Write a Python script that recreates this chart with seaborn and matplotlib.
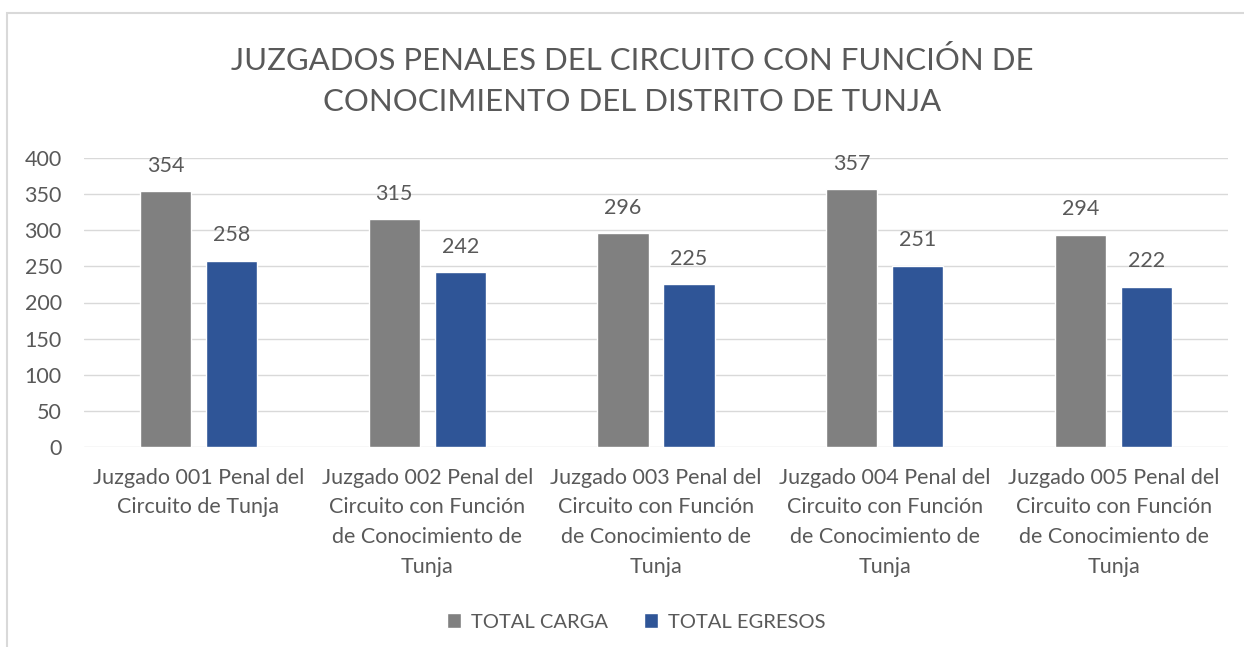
import matplotlib
matplotlib.use("Agg")
import matplotlib.pyplot as plt
from matplotlib.patches import Rectangle
import seaborn as sns
import pandas as pd

categories = [
    "Juzgado 001 Penal del\nCircuito de Tunja",
    "Juzgado 002 Penal del\nCircuito con Función\nde Conocimiento de\nTunja",
    "Juzgado 003 Penal del\nCircuito con Función\nde Conocimiento de\nTunja",
    "Juzgado 004 Penal del\nCircuito con Función\nde Conocimiento de\nTunja",
    "Juzgado 005 Penal del\nCircuito con Función\nde Conocimiento de\nTunja",
]
series_names = ["TOTAL CARGA", "TOTAL EGRESOS"]
total_carga = [354, 315, 296, 357, 294]
total_egresos = [258, 242, 225, 251, 222]
y_ticks = [0, 50, 100, 150, 200, 250, 300, 350, 400]
title = "JUZGADOS PENALES DEL CIRCUITO CON FUNCIÓN DE\nCONOCIMIENTO DEL DISTRITO DE TUNJA"

df = pd.DataFrame({
    "cat": categories * 2,
    "serie": [series_names[0]] * 5 + [series_names[1]] * 5,
    "val": total_carga + total_egresos,
})

sns.set_theme(style="white")
plt.rcParams["font.family"] = ["Lato", "DejaVu Sans"]
txt = "#595959"
grid = "#D9D9D9"
colors = ["#808080", "#2F5597"]

fig = plt.figure(figsize=(12.44, 6.47), dpi=100)
ax = fig.add_axes([84 / 1244, 1 - 447 / 647, (1228 - 84) / 1244, (447 - 158) / 647])

sns.barplot(data=df, x="cat", y="val", hue="serie", palette=colors,
            width=0.577, gap=0.227, ax=ax, legend=True, saturation=1)

ax.set_ylim(0, 400)
ax.set_xlim(-0.5, 4.5)
ax.set_yticks(y_ticks)
ax.yaxis.grid(True, color=grid, linewidth=1)
ax.set_axisbelow(True)
for s in ax.spines.values():
    s.set_visible(False)
ax.set_xlabel("")
ax.set_ylabel("")
ax.tick_params(axis="y", length=0, labelsize=15.5, labelcolor=txt, pad=16)
ax.tick_params(axis="x", length=0, labelsize=15.5, labelcolor=txt, pad=15)
for lab in ax.get_xticklabels():
    lab.set_linespacing(1.6)

for c in ax.containers:
    ax.bar_label(c, fmt="%d", padding=11, fontsize=15.5, color=txt)

leg = ax.legend(loc="center", bbox_to_anchor=(0.4827, (622 - 447) / -289),
                ncol=2, frameon=False, fontsize=14.5, handlelength=0.7,
                handleheight=0.7, columnspacing=1.8, handletextpad=0.5)
for t in leg.get_texts():
    t.set_color(txt)

fig.text(0.508, 1 - 81 / 647, title, ha="center", va="center", fontsize=22.4,
         color=txt, linespacing=1.55)

fig.patches.append(Rectangle((7 / 1244, -0.1), 1.2, 1 - 13 / 647 + 0.1,
                             transform=fig.transFigure, fill=False,
                             edgecolor=grid, linewidth=1.5))

fig.savefig("out.png", dpi=100)
